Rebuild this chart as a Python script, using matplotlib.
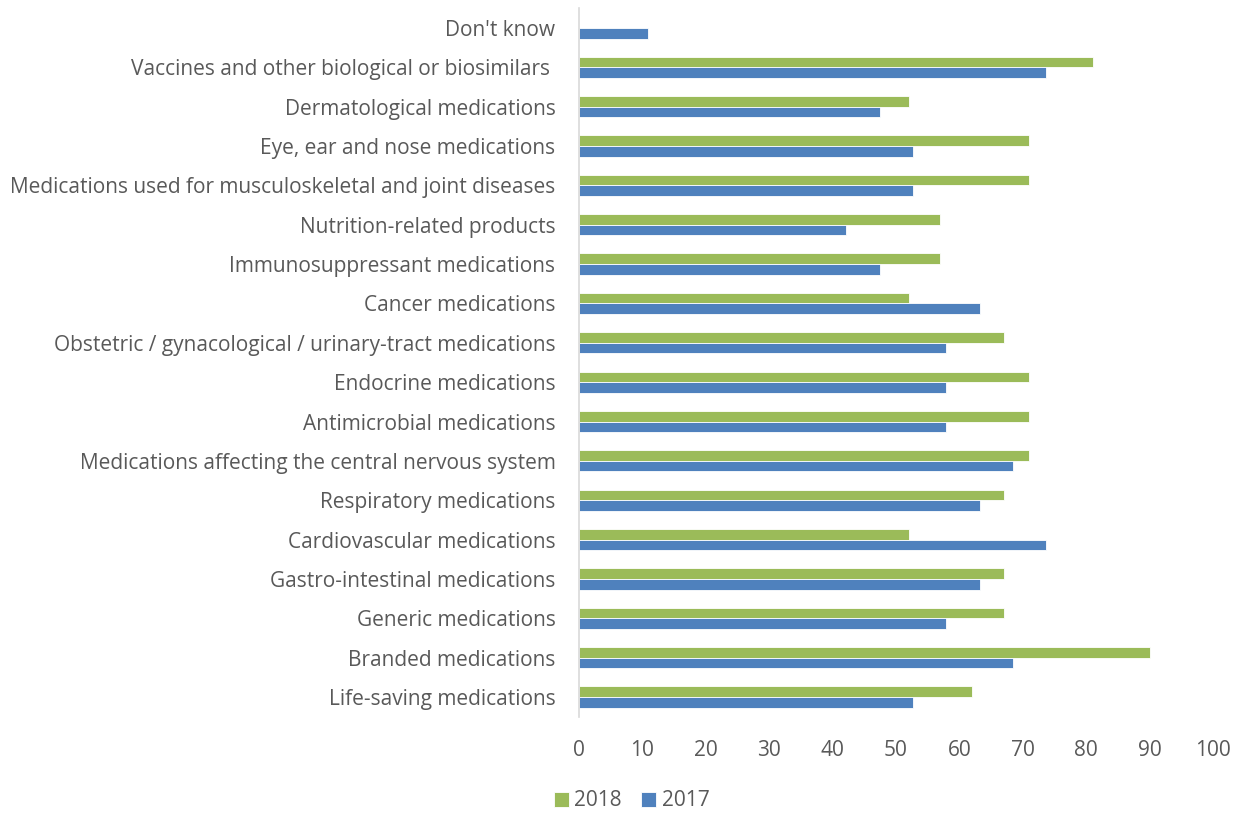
import matplotlib
matplotlib.use('Agg')
from matplotlib import pyplot as plt
import numpy as np

categories = ["Life-saving medications", "Branded medications", "Generic medications",
              "Gastro-intestinal medications", "Cardiovascular medications",
              "Respiratory medications", "Medications affecting the central nervous system",
              "Antimicrobial medications", "Endocrine medications",
              "Obstetric / gynacological / urinary-tract medications", "Cancer medications",
              "Immunosuppressant medications", "Nutrition-related products",
              "Medications used for musculoskeletal and joint diseases",
              "Eye, ear and nose medications", "Dermatological medications",
              "Vaccines and other biological or biosimilars ", "Don't know"]
vals_2018 = [62, 90, 67, 67, 52, 67, 71, 71, 71, 67, 52, 57, 57, 71, 71, 52, 81, 0]
vals_2017 = [52.6, 68.4, 57.9, 63.2, 73.7, 63.2, 68.4, 57.9, 57.9, 57.9, 63.2, 47.4, 42.1,
             52.6, 52.6, 47.4, 73.7, 10.9]
xticks = [0, 10, 20, 30, 40, 50, 60, 70, 80, 90, 100]

plt.rcParams['font.family'] = ['Open Sans', 'DejaVu Sans']
grey = '#595959'
fs = 15

fig = plt.figure(figsize=(12.43, 8.14), dpi=100)
ax = fig.add_axes([0.4658, 0.1196, 0.5101, 0.8702])

y = np.arange(len(categories))
h = 0.27
ax.barh(y + h / 2, vals_2018, height=h, color='#9BBB59', edgecolor='white', linewidth=0.6, label='2018')
ax.barh(y - h / 2, vals_2017, height=h, color='#4F81BD', edgecolor='white', linewidth=0.6, label='2017')

ax.set_xlim(0, 100)
ax.set_ylim(-0.5, len(categories) - 0.5)
ax.set_yticks(y)
ax.set_yticklabels(categories, fontsize=fs, color=grey)
ax.set_xticks(xticks)
ax.set_xticklabels([str(t) for t in xticks], fontsize=fs, color=grey)
ax.tick_params(axis='both', length=0)
ax.tick_params(axis='y', pad=17)
ax.tick_params(axis='x', pad=17)
for s in ['top', 'right', 'bottom']:
    ax.spines[s].set_visible(False)
ax.spines['left'].set_color('#d9d9d9')
ax.spines['left'].set_linewidth(1.2)

ax.legend(loc='center', ncol=2, frameon=False, fontsize=fs, labelcolor=grey, handlelength=0.75,
          handleheight=0.75, handletextpad=0.25, columnspacing=0.9)
leg = ax.get_legend()
leg.set_bbox_to_anchor((0.508, 0.016), transform=fig.transFigure)

fig.savefig('out.png', dpi=100)
